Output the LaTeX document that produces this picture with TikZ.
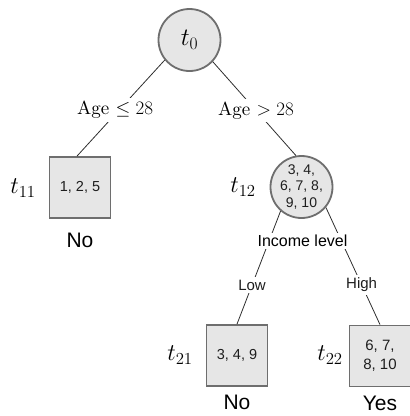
\RequirePackage{fix-cm}
\documentclass[tikz,border=0pt]{standalone}
\usepackage{fontspec}
\setmainfont{lmroman10-regular.otf}
\setsansfont{Liberation Sans}
\definecolor{bordergray}{HTML}{6E6E6E}
\definecolor{fillgray}{HTML}{E6E6E6}
\definecolor{edgegray}{HTML}{2E2E2E}
\definecolor{textdark}{HTML}{1E1E1E}
\begin{document}
\begin{tikzpicture}[x=1pt,y=-1pt,
  treecircle/.style={circle, draw=bordergray, line width=1.8pt, fill=fillgray, minimum size=62pt, inner sep=0pt, align=center},
  leafbox/.style={rectangle, draw=bordergray, line width=1.8pt, fill=fillgray, minimum size=61pt, inner sep=0pt, align=center},
  numtext/.style={font=\sffamily\fontsize{14.5}{17}\selectfont, text=textdark},
  mathlabel/.style={font=\fontsize{24}{28}\selectfont, inner sep=0pt},
  classlabel/.style={font=\sffamily\fontsize{21}{24}\selectfont, text=black, inner sep=0pt},
  condlabel/.style={font=\fontsize{19}{22}\selectfont, fill=white, inner sep=3pt},
  branchlabel/.style={font=\sffamily\fontsize{15}{18}\selectfont, text=textdark, fill=white, inner sep=3pt},
  connector/.style={draw=edgegray, line width=0.8pt}
]
\useasboundingbox (0,0) rectangle (410,416);

% nodes
\node[treecircle, font=\fontsize{25}{28}\selectfont] (t0) at (189.5,40) {$t_0$};
\node[leafbox, numtext] (t11) at (80,187.5) {1, 2, 5};
\node[treecircle, numtext, font=\sffamily\fontsize{14}{16.5}\selectfont] (t12) at (301.5,187) {3, 4,\\6, 7, 8,\\9, 10};
\node[leafbox, numtext] (t21) at (237,355.5) {3, 4, 9};
\node[leafbox, numtext, font=\sffamily\fontsize{15}{19}\selectfont] (t22) at (380,356) {6, 7,\\8, 10};

% side labels
\node[mathlabel] (lt11) at (23,188) {$t_{11}$};
\node[mathlabel] (lt12) at (243,187) {$t_{12}$};
\node[mathlabel] (lt21) at (180,355) {$t_{21}$};
\node[mathlabel] (lt22) at (330,355) {$t_{22}$};

% class labels
\node[classlabel] (c11) at (80,240) {No};
\node[classlabel] (c21) at (237,402) {No};
\node[classlabel] (c22) at (380,403) {Yes};

% connectors
\draw[connector] (t0.219) -- node[condlabel, pos=0.52, xshift=-4pt] (a1) {Age $\leq 28$} ([xshift=-3pt]t11.north);
\draw[connector] (t0.317) -- node[condlabel, pos=0.52] (a2) {Age $> 28$} (t12.100);
\draw[connector] (t12.229) -- node[branchlabel, pos=0.654] (low) {Low} (t21.north);
\draw[connector] (t12.320) -- node[branchlabel, pos=0.661] (high) {High} (t22.north);

\node[font=\sffamily\fontsize{16}{19}\selectfont, text=black, fill=white, inner sep=2pt] (inc) at (302.5,241) {Income level};
\end{tikzpicture}
\end{document}
